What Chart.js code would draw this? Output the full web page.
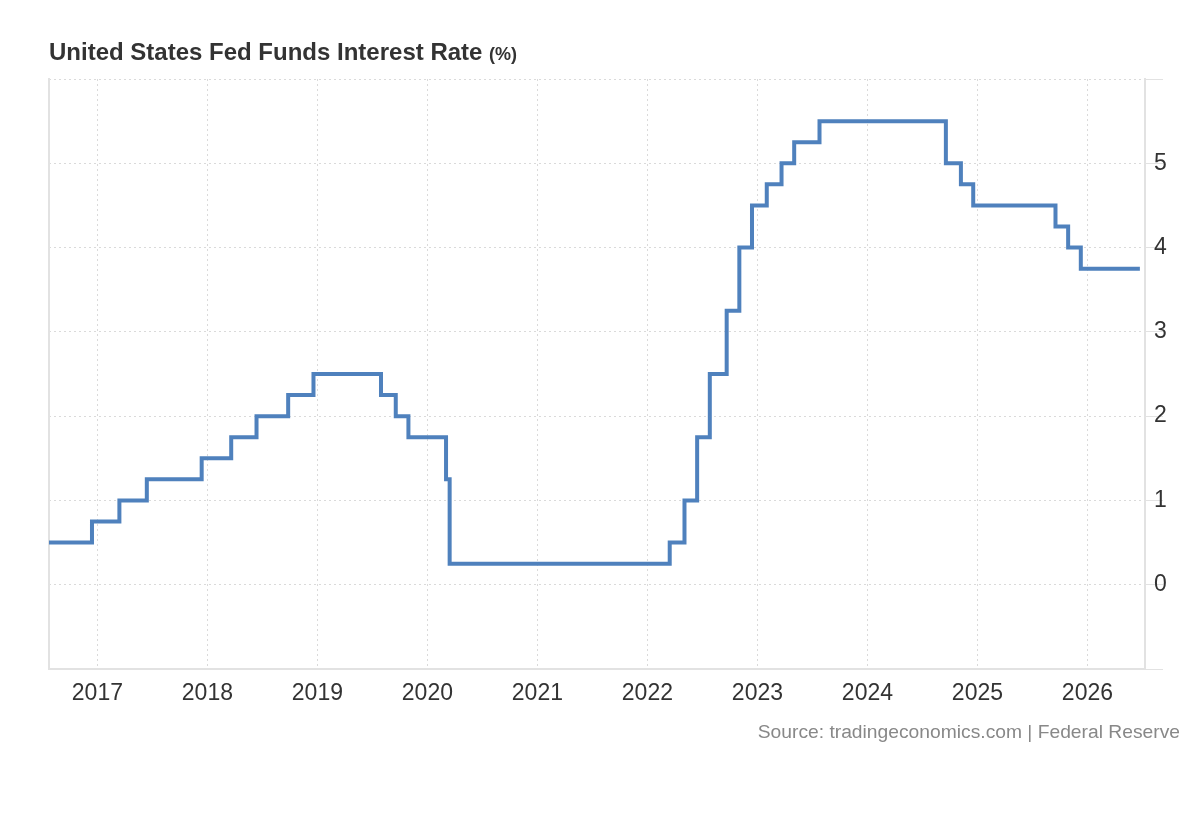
<!DOCTYPE html>
<html>
<head>
<meta charset="utf-8">
<script src="https://cdn.jsdelivr.net/npm/chart.js@4/dist/chart.umd.min.js"></script>
<style>
  body { margin: 0; background: #fff; font-family: "Liberation Sans", Arial, sans-serif; }
  #wrap { position: relative; width: 1200px; height: 820px; }
  #chart { position: absolute; left: 0; top: 0; }
  #title { position: absolute; left: 49px; top: 38px; font-size: 24px; font-weight: bold; color: #333; white-space: nowrap; }
  #title span { font-size: 18px; }
  #source { position: absolute; right: 20px; top: 721px; font-size: 19.25px; color: #888; white-space: nowrap; }
</style>
</head>
<body>
<div id="wrap">
  <canvas id="chart" width="1200" height="820"></canvas>
  <div id="title">United States Fed Funds Interest Rate <span>(%)</span></div>
  <div id="source">Source: tradingeconomics.com | Federal Reserve</div>
</div>
<script>
// rate decision dates (upper bound of target range, %)
const changeDates = [
  '2016-07-24', '2016-12-14', '2017-03-15', '2017-06-14', '2017-12-13',
  '2018-03-21', '2018-06-13', '2018-09-26', '2018-12-19', '2019-07-31',
  '2019-09-18', '2019-10-30', '2020-03-03', '2020-03-15', '2022-03-16',
  '2022-05-04', '2022-06-15', '2022-07-27', '2022-09-21', '2022-11-02',
  '2022-12-14', '2023-02-01', '2023-03-22', '2023-05-03', '2023-07-26',
  '2024-09-18', '2024-11-07', '2024-12-18', '2025-09-17', '2025-10-29',
  '2025-12-10', '2026-06-24'
];
const rates = [
  0.5, 0.75, 1.0, 1.25, 1.5,
  1.75, 2.0, 2.25, 2.5, 2.25,
  2.0, 1.75, 1.25, 0.25, 0.5,
  1.0, 1.75, 2.5, 3.25, 4.0,
  4.5, 4.75, 5.0, 5.25, 5.5,
  5.0, 4.75, 4.5, 4.25, 4.0,
  3.75, 3.75
];
const yearTicks = [2017, 2018, 2019, 2020, 2021, 2022, 2023, 2024, 2025, 2026];
const rateTicks = [0, 1, 2, 3, 4, 5];

function toYear(s) {
  const d = new Date(s + 'T00:00:00Z');
  const y = d.getUTCFullYear();
  const start = Date.UTC(y, 0, 1);
  const end = Date.UTC(y + 1, 0, 1);
  return y + (d.getTime() - start) / (end - start);
}

const points = changeDates.map((d, i) => ({ x: toYear(d), y: rates[i] }));

const gridColor = '#dadada';
const lineGray = '#e2e2e2';
const tickFont = { family: '"Liberation Sans", Arial, sans-serif', size: 23 };

new Chart(document.getElementById('chart'), {
  type: 'line',
  data: {
    datasets: [{
      data: points,
      borderColor: '#4f81bd',
      borderWidth: 4,
      pointRadius: 0,
      stepped: 'before',
      fill: false
    }]
  },
  options: {
    responsive: false,
    animation: false,
    events: [],
    layout: { padding: { top: 79, left: 49, right: 0, bottom: 0 } },
    plugins: { legend: { display: false }, tooltip: { enabled: false } },
    scales: {
      x: {
        type: 'linear',
        min: toYear('2016-07-24'),
        max: toYear('2026-07-11'),
        afterBuildTicks: scale => { scale.ticks = yearTicks.map(v => ({ value: v })); },
        afterFit: scale => { scale.height = 151; },
        grid: { color: gridColor, drawTicks: false },
        border: { display: true, color: lineGray, width: 2, dash: [2, 3] },
        ticks: {
          color: '#333',
          font: tickFont,
          padding: 11,
          maxRotation: 0,
          autoSkip: false,
          callback: v => String(v)
        }
      },
      y: {
        position: 'right',
        min: -1,
        max: 6,
        afterFit: scale => { scale.width = 55; },
        grid: { color: gridColor, tickColor: lineGray, tickLength: 18, tickBorderDash: [] },
        border: { display: true, color: lineGray, width: 2, dash: [2, 3] },
        ticks: {
          stepSize: 1,
          color: '#333',
          font: tickFont,
          padding: -9,
          callback: v => rateTicks.includes(v) ? String(v) : ''
        }
      },
      yLeft: {
        position: 'left',
        min: -1,
        max: 6,
        afterFit: scale => { scale.width = 0; },
        grid: { display: false, drawOnChartArea: false, drawTicks: false },
        border: { display: true, color: lineGray, width: 2 },
        ticks: { display: false }
      }
    }
  }
});
</script>
</body>
</html>
